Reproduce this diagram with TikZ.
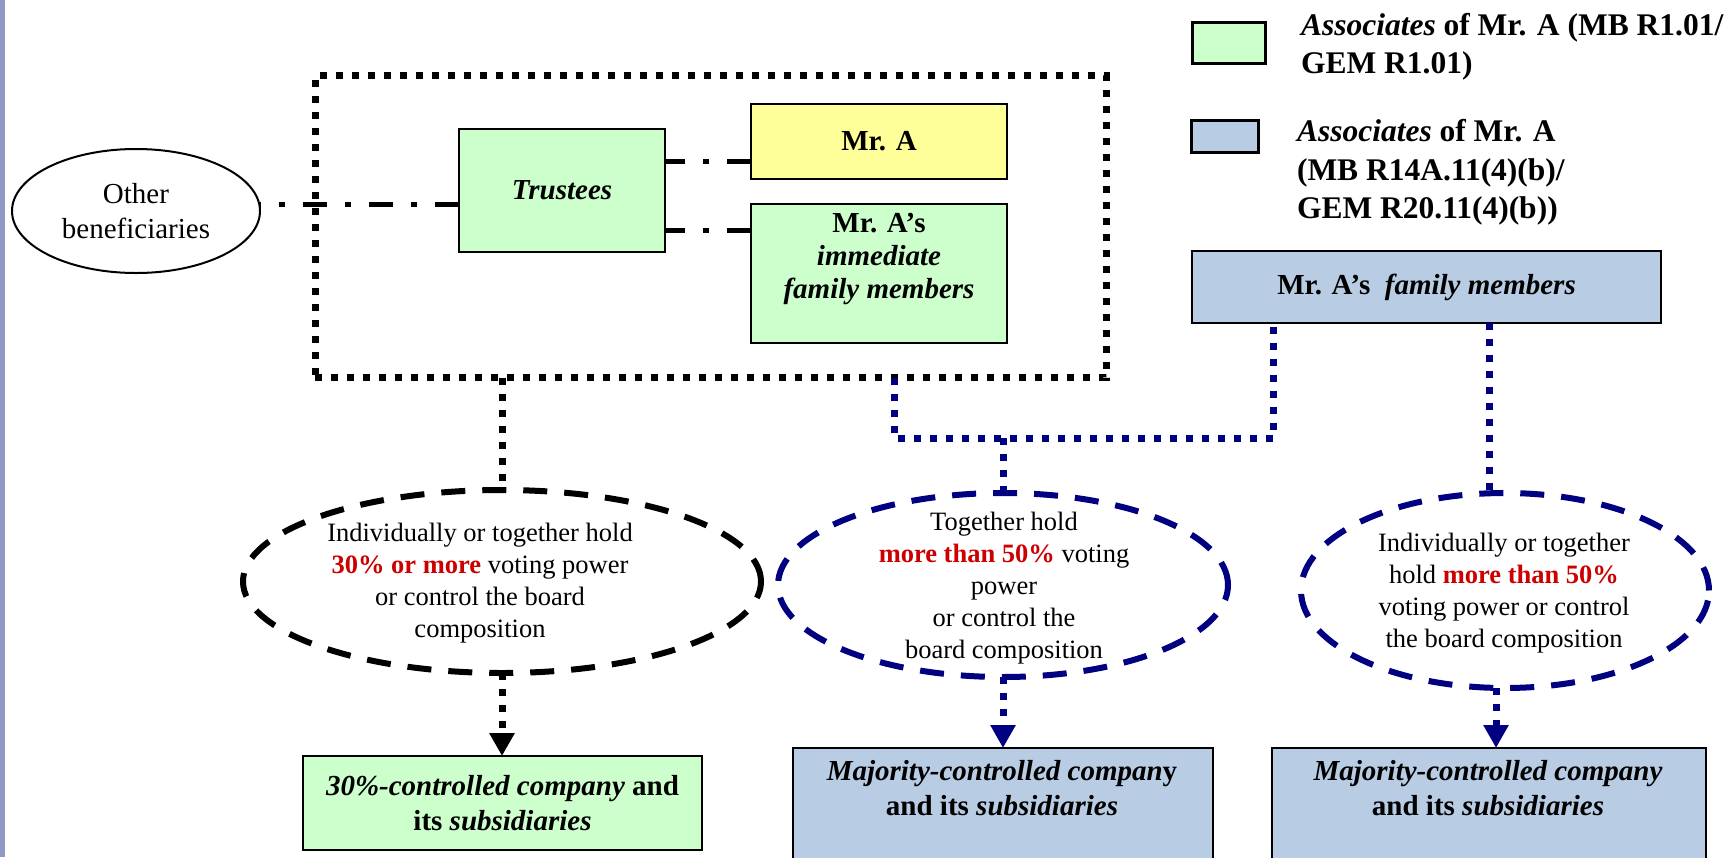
\documentclass[tikz,border=0pt]{standalone}
\usepackage{fontspec}
\setmainfont{Liberation Serif}
\usetikzlibrary{shapes.geometric,arrows.meta}

\definecolor{agreen}{HTML}{CCFFCC}
\definecolor{ayellow}{HTML}{FFFF99}
\definecolor{ablue}{HTML}{B8CCE4}
\definecolor{anavy}{HTML}{000080}
\definecolor{ared}{HTML}{CC0000}
\definecolor{abar}{HTML}{8E99C5}

\newcommand{\fMain}{\fontsize{29pt}{33pt}\selectfont}
\newcommand{\fCond}{\fontsize{26.5pt}{32pt}\selectfont}
\newcommand{\fLeg}{\fontsize{31.5pt}{38pt}\selectfont}
\newcommand{\fBottom}{\fontsize{29pt}{35pt}\selectfont}

\begin{document}
\begin{tikzpicture}[x=1pt,y=-1pt,
  every node/.style={inner sep=0pt, outer sep=0pt},
  plainbox/.style={draw, line width=2.5pt, rectangle},
  greenbox/.style={plainbox, fill=agreen},
  yellowbox/.style={plainbox, fill=ayellow},
  bluebox/.style={plainbox, fill=ablue},
  blackdot/.style={draw=black, line width=7pt, dash pattern=on 7pt off 9pt},
  navydot/.style={draw=anavy, line width=7pt, dash pattern=on 7pt off 9pt},
  dashdot/.style={draw=black, line width=5pt, dash pattern=on 24pt off 18pt on 6pt off 18pt},
  condition/.style={ellipse, line width=6pt, dash pattern=on 24pt off 17pt},
  % multi-line texts are placed by the baseline of their last line
  condtext/.style={align=center, anchor=base, font=\fCond},
  legtext/.style={anchor=base west, font=\fLeg\bfseries},
  tip/.style={-{Triangle[length=23pt,width=24pt]}},
]
\useasboundingbox (0,0) rectangle (1729,857);
\clip (0,0) rectangle (1729,857);

% side strip
\fill[abar] (0,0) rectangle (5,857);

% legend
\node[greenbox, line width=3pt, minimum width=73pt, minimum height=41pt] (leggreen) at (1228.5,42.5) {};
\node[legtext] (leggreen1) at (1301,35) {\textit{Associates} of Mr. A (MB R1.01/};
\node[legtext] (leggreen2) at (1301,73) {GEM R1.01)};
\node[bluebox, line width=3pt, minimum width=67pt, minimum height=32pt] (legblue) at (1225,136) {};
\node[legtext] (legblue1) at (1297,141) {\textit{Associates} of Mr. A};
\node[legtext] (legblue2) at (1297,180) {(MB R14A.11(4)(b)/};
\node[legtext] (legblue3) at (1297,218) {GEM R20.11(4)(b))};

% trust group
\node[blackdot, minimum width=791pt, minimum height=302pt] (trust) at (710.5,226.5) {};
\node[greenbox, minimum width=206pt, minimum height=123pt, font=\fMain\bfseries\itshape] (trustees) at (562,190.5) {Trustees};
\node[yellowbox, minimum width=256pt, minimum height=75pt, font=\fMain\bfseries] (mra) at (879,141.5) {Mr. A};
\node[greenbox, minimum width=256pt, minimum height=139pt] (imm) at (879,273.5) {};
\node[align=center, anchor=base, font=\fMain\bfseries] (immtxt) at (879,298) {Mr. A's\\\textit{immediate}\\\textit{family members}};

\node[ellipse, draw, line width=2pt, minimum width=248pt, minimum height=124pt, align=center, font=\fBottom] (ob) at (136,211) {Other\\beneficiaries};

\coordinate (obrow) at (0,204);
\coordinate (row1) at (0,161);
\coordinate (row2) at (0,230);
\draw[dashdot] (trustees.west |- obrow) -- (ob.east |- obrow);
\draw[dashdot] (mra.west |- row1) -- (trustees.east |- row1);
\draw[dashdot] (imm.west |- row2) -- (trustees.east |- row2);

% family members
\node[bluebox, minimum width=469pt, minimum height=72pt, font=\fMain\bfseries] (fam) at (1426.5,287) {Mr. A's\ \ \textit{family members}};

% control conditions
\node[condition, draw=black, minimum width=518pt, minimum height=183pt] (cond1) at (502,581.5) {};
\node[condtext] (cond1txt) at (480,637) {Individually or together hold\\\textcolor{ared}{\textbf{30\% or more}} voting power\\or control the board\\composition};
\node[condition, draw=anavy, minimum width=450pt, minimum height=184pt] (cond2) at (1003,585) {};
\node[condtext] (cond2txt) at (1004,658) {Together hold\\\textcolor{ared}{\textbf{more than 50\%}} voting\\power\\or control the\\board composition};
\node[condition, draw=anavy, minimum width=408pt, minimum height=195pt] (cond3) at (1505,590.5) {};
\node[condtext] (cond3txt) at (1504,647) {Individually or together\\hold \textcolor{ared}{\textbf{more than 50\%}}\\voting power or control\\the board composition};

% companies
\node[greenbox, minimum width=399pt, minimum height=94pt, align=center, font=\fBottom\bfseries] (co1) at (502.5,803) {\textit{30\%-controlled company} and\\its \textit{subsidiaries}};
\node[bluebox, minimum width=420pt, minimum height=160pt] (co2) at (1003,828) {};
\node[align=center, anchor=base, font=\fBottom\bfseries] (co2txt) at (1002,815) {\textit{Majority-controlled compan}y\\and its \textit{subsidiaries}};
\node[bluebox, minimum width=434pt, minimum height=160pt] (co3) at (1489,828) {};
\node[align=center, anchor=base, font=\fBottom\bfseries] (co3txt) at (1488,815) {\textit{Majority-controlled company}\\and its \textit{subsidiaries}};

% connectors
\coordinate (ja) at (894,438);
\coordinate (jb) at (1273,438);
\coordinate (jc) at (1003,438);
\coordinate (jd) at (1489,0);
\coordinate (je) at (1496,0);
\coordinate (jf) at (502,0);
\draw[blackdot] (trust.south -| jf) -- (cond1.north);
\draw[navydot] (trust.south -| ja) -- (ja) -- (jb) -- (fam.south -| jb);
\draw[navydot] (jc) -- (cond2.north);
\draw[navydot] (fam.south -| jd) -- (cond3.north -| jd);
\draw[blackdot, tip] (cond1.south) -- (cond1.south |- co1.north);
\draw[navydot, tip] (cond2.south) -- (cond2.south |- co2.north);
\draw[navydot, tip] (cond3.south -| je) -- (je |- co3.north);
\end{tikzpicture}
\end{document}
